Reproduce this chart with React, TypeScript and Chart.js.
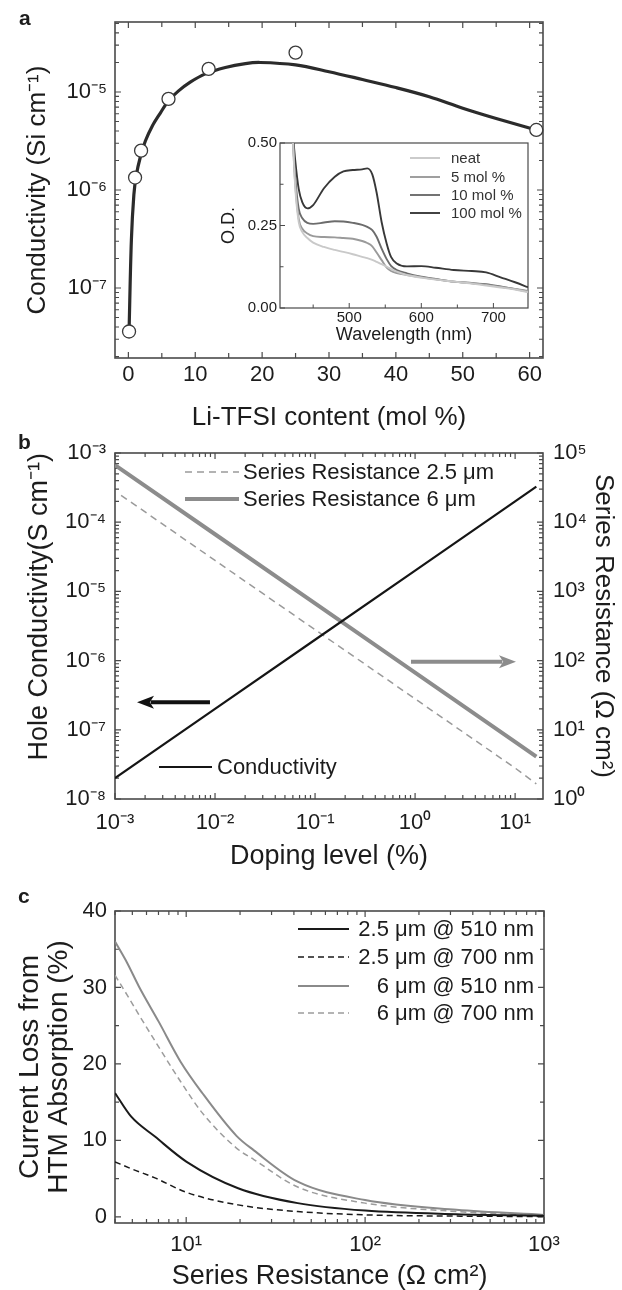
import React, { useEffect, useRef } from 'react';
import { Chart, registerables } from 'chart.js';

Chart.register(...registerables);

const FONT = "'Liberation Sans', Arial, Helvetica, sans-serif";
const INK = '#1c1c1c';
const AXIS = '#4a4a4a';
Chart.defaults.font.family = FONT;
Chart.defaults.color = INK;

// ---------------- Panel a: conductivity vs Li-TFSI content ----------------
const liContent = [0.1, 1, 1.9, 6, 12, 25, 61];
const measuredConductivity = [3.6e-8, 1.34e-6, 2.52e-6, 8.5e-6, 1.72e-5, 2.52e-5, 4.1e-6];
const fitContent = [0.1, 0.45, 0.82, 1.19, 1.79, 2.54, 3.58, 4.78, 5.97, 7.46, 9.25, 11.5, 14.5, 17.5, 19.7, 25, 30, 35, 40, 45, 50, 55, 61];
const fitConductivity = [3.56e-8, 3.09e-7, 8.9e-7, 1.42e-6, 2.17e-6, 3.16e-6, 4.5e-6, 6.1e-6, 8.09e-6, 1.02e-5, 1.26e-5, 1.53e-5, 1.78e-5, 1.95e-5, 2.0e-5, 1.89e-5, 1.61e-5, 1.34e-5, 1.11e-5, 8.95e-6, 6.84e-6, 5.37e-6, 4.09e-6];
const aXTickValues = [0, 5, 10, 15, 20, 25, 30, 35, 40, 45, 50, 55, 60];
const aXLabelValues = [0, 10, 20, 30, 40, 50, 60];
const aXLabelTexts = ['0', '10', '20', '30', '40', '50', '60'];
const aYLabelValues = [1e-7, 1e-6, 1e-5];
const aYLabelTexts = ['10\u207B\u2077', '10\u207B\u2076', '10\u207B\u2075'];

// ---------------- Inset: absorption spectra ----------------
const wavelength = [421, 425, 430, 435, 442, 450, 465, 480, 492, 505, 518, 525, 532, 538, 545, 552, 558, 566, 580, 600, 620, 645, 670, 690, 710, 730, 748];
const odNeat = [0.55, 0.37, 0.26, 0.23, 0.212, 0.198, 0.185, 0.176, 0.17, 0.163, 0.155, 0.151, 0.146, 0.14, 0.133, 0.125, 0.118, 0.11, 0.1, 0.092, 0.086, 0.08, 0.074, 0.068, 0.062, 0.056, 0.048];
const od5 = [0.55, 0.38, 0.27, 0.24, 0.226, 0.218, 0.215, 0.214, 0.212, 0.21, 0.203, 0.197, 0.187, 0.168, 0.145, 0.122, 0.112, 0.106, 0.1, 0.093, 0.087, 0.08, 0.076, 0.07, 0.064, 0.058, 0.052];
const od10 = [0.55, 0.40, 0.30, 0.272, 0.258, 0.255, 0.259, 0.263, 0.262, 0.258, 0.252, 0.246, 0.236, 0.216, 0.18, 0.148, 0.128, 0.115, 0.105, 0.095, 0.088, 0.08, 0.075, 0.072, 0.065, 0.057, 0.05];
const od100 = [0.55, 0.45, 0.36, 0.32, 0.302, 0.312, 0.363, 0.398, 0.414, 0.418, 0.42, 0.423, 0.405, 0.35, 0.26, 0.195, 0.155, 0.135, 0.126, 0.127, 0.122, 0.115, 0.112, 0.108, 0.093, 0.078, 0.063];
const insetXTickValues = [450, 500, 550, 600, 650, 700];
const insetXLabelValues = [500, 600, 700];
const insetXLabelTexts = ['500', '600', '700'];
const insetYTickValues = [0, 0.125, 0.25, 0.375, 0.5];
const insetYLabelValues = [0, 0.25, 0.5];
const insetYLabelTexts = ['0.00', '0.25', '0.50'];

// ---------------- Panel b: conductivity & series resistance vs doping ----------------
const dopingLevel = [0.001, 0.01, 0.1, 1, 10, 16.3];
const holeConductivity = [2.0e-8, 2.0e-7, 2.0e-6, 2.0e-5, 2.0e-4, 3.26e-4];
const seriesR6 = [6.7e4, 6.7e3, 670, 67, 6.7, 4.1];
const dopingLevelThin = [0.00115, 0.01, 0.1, 1, 10, 16.3];
const seriesR25 = [2.45e4, 2.8e3, 280, 28, 2.8, 1.65];
const bXLabelValues = [1e-3, 1e-2, 1e-1, 1, 10];
const bXLabelTexts = ['10\u207B\u00B3', '10\u207B\u00B2', '10\u207B\u00B9', '10\u2070', '10\u00B9'];
const bYLabelValues = [1e-8, 1e-7, 1e-6, 1e-5, 1e-4, 1e-3];
const bYLabelTexts = ['10\u207B\u2078', '10\u207B\u2077', '10\u207B\u2076', '10\u207B\u2075', '10\u207B\u2074', '10\u207B\u00B3'];
const bY2LabelValues = [1, 10, 100, 1000, 1e4, 1e5];
const bY2LabelTexts = ['10\u2070', '10\u00B9', '10\u00B2', '10\u00B3', '10\u2074', '10\u2075'];
const arrowToConductivity = { fromX: 8.9e-3, toX: 1.66e-3, atY: 2.5e-7 };
const arrowToResistance = { fromX: 0.91, toX: 10.2, atY: 96 };

// ---------------- Panel c: current loss vs series resistance ----------------
const resistance6 = [4.0, 4.68, 5.45, 7.03, 9.3, 12.3, 19.1, 23.9, 42, 100, 324, 1000];
const loss6at510 = [36.0, 33.2, 30.1, 25.5, 20.3, 16.2, 10.6, 8.7, 4.6, 2.2, 0.92, 0.26];
const loss6at700 = [31.6, 29.0, 26.4, 22.2, 17.7, 13.6, 9.0, 7.5, 3.9, 1.8, 0.7, 0.2];
const resistance25 = [4.0, 4.93, 6.69, 10.06, 19.5, 42, 100, 324, 1000];
const loss25at510 = [16.2, 13.1, 10.5, 7.2, 3.75, 1.8, 0.82, 0.35, 0.15];
const loss25at700 = [7.2, 6.3, 5.1, 3.2, 1.57, 0.7, 0.26, 0.1, 0.05];
const cYTickValues = [0, 5, 10, 15, 20, 25, 30, 35, 40];
const cYLabelValues = [0, 10, 20, 30, 40];
const cYLabelTexts = ['0', '10', '20', '30', '40'];
const cXLabelValues = [10, 100, 1000];
const cXLabelTexts = ['10\u00B9', '10\u00B2', '10\u00B3'];

// ---------------- helpers ----------------
const close = (a: number, b: number) => Math.abs(a - b) <= 1e-9 * Math.max(Math.abs(a), Math.abs(b)) + 1e-12;

function logTicks(lo: number, hi: number, minV: number, maxV: number) {
  const out: number[] = [];
  for (let e = lo; e <= hi; e++) {
    for (let m = 1; m <= 9; m++) {
      const v = parseFloat((m * Math.pow(10, e)).toPrecision(6));
      if (v >= minV * 0.9999 && v <= maxV * 1.0001) out.push(v);
    }
  }
  return out;
}

function labeler(values: number[], texts: string[]) {
  return (v: any) => {
    const i = values.findIndex((t) => close(t, Number(v)));
    return i >= 0 ? texts[i] : '';
  };
}

function pts(xs: number[], ys: number[]) {
  return xs.map((x, i) => ({ x, y: ys[i] }));
}

type TickSpec = { id: string; sides: string[]; majors: number[]; major: number; minor: number };

function makeFrame(axes: TickSpec[], frameWidth: number, tickWidth: number) {
  return {
    id: 'frameTicks',
    beforeDatasetsDraw(chart: any) {
      const { ctx, chartArea: a } = chart;
      ctx.save();
      ctx.strokeStyle = AXIS;
      ctx.lineWidth = tickWidth;
      ctx.beginPath();
      for (const ax of axes) {
        const scale = chart.scales[ax.id];
        if (!scale) continue;
        const horizontal = scale.isHorizontal();
        for (const t of scale.ticks) {
          const p = scale.getPixelForValue(t.value);
          const len = ax.majors.some((m) => close(m, t.value)) ? ax.major : ax.minor;
          if (horizontal) {
            if (p < a.left - 0.5 || p > a.right + 0.5) continue;
            if (ax.sides.includes('bottom')) { ctx.moveTo(p, a.bottom); ctx.lineTo(p, a.bottom - len); }
            if (ax.sides.includes('top')) { ctx.moveTo(p, a.top); ctx.lineTo(p, a.top + len); }
          } else {
            if (p < a.top - 0.5 || p > a.bottom + 0.5) continue;
            if (ax.sides.includes('left')) { ctx.moveTo(a.left, p); ctx.lineTo(a.left + len, p); }
            if (ax.sides.includes('right')) { ctx.moveTo(a.right, p); ctx.lineTo(a.right - len, p); }
          }
        }
      }
      ctx.stroke();
      ctx.lineWidth = frameWidth;
      ctx.strokeRect(a.left, a.top, a.right - a.left, a.bottom - a.top);
      ctx.restore();
    },
  };
}

type LegendItem = { ds: number; x1: number; x2: number; y: number; tx: number; align: 'left' | 'right' };

function makeLegend(items: LegendItem[], size: number, color: string) {
  return {
    id: 'panelLegend',
    afterDraw(chart: any) {
      const ctx = chart.ctx;
      ctx.save();
      for (const it of items) {
        const ds = chart.data.datasets[it.ds];
        ctx.strokeStyle = ds.borderColor;
        ctx.lineWidth = ds.borderWidth;
        ctx.setLineDash(ds.borderDash || []);
        ctx.beginPath();
        ctx.moveTo(it.x1, it.y);
        ctx.lineTo(it.x2, it.y);
        ctx.stroke();
        ctx.setLineDash([]);
        ctx.fillStyle = color;
        ctx.font = `${size}px ${FONT}`;
        ctx.textAlign = it.align;
        ctx.textBaseline = 'middle';
        ctx.fillText(ds.label, it.tx, it.y + 1);
      }
      ctx.restore();
    },
  };
}

type Arrow = { xScale: string; yScale: string; fromX: number; toX: number; atY: number; color: string };

function makeArrows(arrows: Arrow[]) {
  return {
    id: 'arrows',
    afterDatasetsDraw(chart: any) {
      const ctx = chart.ctx;
      for (const a of arrows) {
        const xs = chart.scales[a.xScale];
        const ys = chart.scales[a.yScale];
        const x1 = xs.getPixelForValue(a.fromX);
        const x2 = xs.getPixelForValue(a.toX);
        const y = ys.getPixelForValue(a.atY);
        const dir = Math.sign(x2 - x1);
        const head = 17;
        const half = 6.5;
        ctx.save();
        ctx.strokeStyle = a.color;
        ctx.fillStyle = a.color;
        ctx.lineWidth = 4;
        ctx.beginPath();
        ctx.moveTo(x1, y);
        ctx.lineTo(x2 - dir * head * 0.8, y);
        ctx.stroke();
        ctx.beginPath();
        ctx.moveTo(x2, y);
        ctx.lineTo(x2 - dir * head, y - half);
        ctx.lineTo(x2 - dir * head * 0.75, y);
        ctx.lineTo(x2 - dir * head, y + half);
        ctx.closePath();
        ctx.fill();
        ctx.restore();
      }
    },
  };
}

function tickOpts(size: number, padding: number, values: number[], texts: string[]) {
  return {
    autoSkip: false,
    maxRotation: 0,
    minRotation: 0,
    padding,
    color: INK,
    font: { size, family: FONT, lineHeight: 1 },
    callback: labeler(values, texts),
  };
}

function titleOpts(text: any, size: number, padTop: number, padBottom: number, align = 'center', lineHeight = 1) {
  return {
    display: true,
    text,
    align,
    color: INK,
    font: { size, family: FONT, lineHeight },
    padding: { top: padTop, bottom: padBottom },
  };
}

const hidden = { grid: { display: false, drawTicks: false }, border: { display: false } };
const baseOptions = {
  responsive: false,
  animation: false,
  devicePixelRatio: 1,
  events: [],
};
const noPlugins = { legend: { display: false }, tooltip: { enabled: false } };

// ---------------- chart builders ----------------
function buildPanelA() {
  const yTicks = logTicks(-8, -5, 1.932e-8, 5.176e-5);
  return {
    type: 'line',
    data: {
      datasets: [
        {
          label: 'measured',
          data: pts(liContent, measuredConductivity),
          showLine: false,
          pointRadius: 6.5,
          pointBorderWidth: 1.3,
          pointBorderColor: '#3a3a3a',
          pointBackgroundColor: '#ffffff',
          clip: false,
        },
        {
          label: 'fit',
          data: pts(fitContent, fitConductivity),
          borderColor: '#2b2b2b',
          borderWidth: 3.2,
          pointRadius: 0,
          tension: 0.35,
          fill: false,
        },
      ],
    },
    options: {
      ...baseOptions,
      layout: { padding: { left: 0, top: 22, right: 79, bottom: 0 } },
      plugins: noPlugins,
      scales: {
        x: {
          type: 'linear',
          min: -2,
          max: 62,
          ...hidden,
          afterFit: (s: any) => { s.height = 82; },
          afterBuildTicks: (s: any) => { s.ticks = aXTickValues.map((v) => ({ value: v })); },
          ticks: tickOpts(22, 6, aXLabelValues, aXLabelTexts),
          title: titleOpts('Li-TFSI content (mol %)', 26, 0, 9),
        },
        y: {
          type: 'logarithmic',
          min: 1.932e-8,
          max: 5.176e-5,
          ...hidden,
          afterFit: (s: any) => { s.width = 115; },
          afterBuildTicks: (s: any) => { s.ticks = yTicks.map((v) => ({ value: v })); },
          ticks: tickOpts(22, 8, aYLabelValues, aYLabelTexts),
          title: titleOpts('Conductivity (Si cm\u207B\u00B9)', 26, 25, 0),
        },
      },
    },
    plugins: [
      makeFrame(
        [
          { id: 'x', sides: ['bottom', 'top'], majors: aXLabelValues, major: 6, minor: 5 },
          { id: 'y', sides: ['left', 'right'], majors: aYLabelValues, major: 6, minor: 4 },
        ],
        1.6,
        1.2
      ),
    ],
  };
}

function buildInset() {
  const line = (label: string, ys: number[], color: string) => ({
    label,
    data: pts(wavelength, ys),
    borderColor: color,
    borderWidth: 1.9,
    pointRadius: 0,
    cubicInterpolationMode: 'monotone',
    fill: false,
  });
  return {
    type: 'line',
    data: {
      datasets: [
        line('neat', odNeat, '#c9c9c9'),
        line('5 mol %', od5, '#9a9a9a'),
        line('10 mol %', od10, '#6c6c6c'),
        line('100 mol %', od100, '#383838'),
      ],
    },
    options: {
      ...baseOptions,
      layout: { padding: { left: 0, top: 13, right: 12, bottom: 0 } },
      plugins: noPlugins,
      scales: {
        x: {
          type: 'linear',
          min: 404,
          max: 748,
          ...hidden,
          afterFit: (s: any) => { s.height = 47; },
          afterBuildTicks: (s: any) => { s.ticks = insetXTickValues.map((v) => ({ value: v })); },
          ticks: tickOpts(15, 2, insetXLabelValues, insetXLabelTexts),
          title: titleOpts('Wavelength (nm)', 18, 0, 11),
        },
        y: {
          type: 'linear',
          min: 0,
          max: 0.5,
          ...hidden,
          afterFit: (s: any) => { s.width = 80; },
          afterBuildTicks: (s: any) => { s.ticks = insetYTickValues.map((v) => ({ value: v })); },
          ticks: tickOpts(15, 3, insetYLabelValues, insetYLabelTexts),
          title: titleOpts('O.D.', 18, 20, 0),
        },
      },
    },
    plugins: [
      makeFrame(
        [
          { id: 'x', sides: ['bottom'], majors: insetXLabelValues, major: 5, minor: 3.5 },
          { id: 'y', sides: ['left'], majors: insetYLabelValues, major: 5, minor: 3.5 },
        ],
        1.2,
        1
      ),
      makeLegend(
        [
          { ds: 0, x1: 210, x2: 240, y: 28, tx: 251, align: 'left' },
          { ds: 1, x1: 210, x2: 240, y: 47, tx: 251, align: 'left' },
          { ds: 2, x1: 210, x2: 240, y: 65, tx: 251, align: 'left' },
          { ds: 3, x1: 210, x2: 240, y: 83, tx: 251, align: 'left' },
        ],
        15,
        '#333333'
      ),
    ],
  };
}

function buildPanelB() {
  const xTicks = logTicks(-3, 1, 0.001, 19);
  const yTicks = logTicks(-8, -3, 1e-8, 1e-3);
  const y2Ticks = logTicks(0, 5, 1, 1e5);
  return {
    type: 'line',
    data: {
      datasets: [
        {
          label: 'Conductivity',
          data: pts(dopingLevel, holeConductivity),
          borderColor: '#151515',
          borderWidth: 2.2,
          pointRadius: 0,
          yAxisID: 'y',
        },
        {
          label: 'Series Resistance 2.5 \u03BCm',
          data: pts(dopingLevelThin, seriesR25),
          borderColor: '#9a9a9a',
          borderWidth: 1.5,
          borderDash: [7, 5],
          pointRadius: 0,
          yAxisID: 'y2',
        },
        {
          label: 'Series Resistance 6 \u03BCm',
          data: pts(dopingLevel, seriesR6),
          borderColor: '#8c8c8c',
          borderWidth: 4,
          pointRadius: 0,
          yAxisID: 'y2',
        },
      ],
    },
    options: {
      ...baseOptions,
      layout: { padding: { left: 0, top: 23, right: 0, bottom: 0 } },
      plugins: noPlugins,
      scales: {
        x: {
          type: 'logarithmic',
          min: 0.001,
          max: 19,
          ...hidden,
          afterFit: (s: any) => { s.height = 71; },
          afterBuildTicks: (s: any) => { s.ticks = xTicks.map((v) => ({ value: v })); },
          ticks: tickOpts(22, 13, bXLabelValues, bXLabelTexts),
          title: titleOpts('Doping level (%)', 27, 0, 0),
        },
        y: {
          type: 'logarithmic',
          position: 'left',
          min: 1e-8,
          max: 1e-3,
          ...hidden,
          afterFit: (s: any) => { s.width = 115; },
          afterBuildTicks: (s: any) => { s.ticks = yTicks.map((v) => ({ value: v })); },
          ticks: tickOpts(22, 9, bYLabelValues, bYLabelTexts),
          title: titleOpts('Hole Conductivity(S cm\u207B\u00B9)', 27, 26.5, 0, 'end'),
        },
        y2: {
          type: 'logarithmic',
          position: 'right',
          min: 1,
          max: 1e5,
          ...hidden,
          afterFit: (s: any) => { s.width = 79; },
          afterBuildTicks: (s: any) => { s.ticks = y2Ticks.map((v) => ({ value: v })); },
          ticks: tickOpts(22, 10, bY2LabelValues, bY2LabelTexts),
          title: titleOpts('Series Resistance (\u03A9 cm\u00B2)', 26, 6, 0),
        },
      },
    },
    plugins: [
      makeFrame(
        [
          { id: 'x', sides: ['bottom', 'top'], majors: bXLabelValues, major: 6, minor: 4 },
          { id: 'y', sides: ['left'], majors: bYLabelValues, major: 6, minor: 4 },
          { id: 'y2', sides: ['right'], majors: bY2LabelValues, major: 6, minor: 4 },
        ],
        1.6,
        1.2
      ),
      makeArrows([
        { xScale: 'x', yScale: 'y', ...arrowToConductivity, color: '#111111' },
        { xScale: 'x', yScale: 'y2', ...arrowToResistance, color: '#8c8c8c' },
      ]),
      makeLegend(
        [
          { ds: 1, x1: 185, x2: 239, y: 42, tx: 243, align: 'left' },
          { ds: 2, x1: 185, x2: 239, y: 69, tx: 243, align: 'left' },
          { ds: 0, x1: 159, x2: 212, y: 337, tx: 217, align: 'left' },
        ],
        22,
        INK
      ),
    ],
  };
}

function buildPanelC() {
  const xTicks = logTicks(0, 3, 4, 1000);
  const line = (label: string, xs: number[], ys: number[], color: string, width: number, dash: number[]) => ({
    label,
    data: pts(xs, ys),
    borderColor: color,
    borderWidth: width,
    borderDash: dash,
    pointRadius: 0,
    cubicInterpolationMode: 'monotone',
    fill: false,
  });
  return {
    type: 'line',
    data: {
      datasets: [
        line('2.5 \u03BCm @ 510 nm', resistance25, loss25at510, '#1a1a1a', 2, []),
        line('2.5 \u03BCm @ 700 nm', resistance25, loss25at700, '#1a1a1a', 1.5, [6, 4]),
        line('6 \u03BCm @ 510 nm', resistance6, loss6at510, '#8a8a8a', 2, []),
        line('6 \u03BCm @ 700 nm', resistance6, loss6at700, '#9c9c9c', 1.5, [6, 4]),
      ],
    },
    options: {
      ...baseOptions,
      layout: { padding: { left: 0, top: 31, right: 78, bottom: 0 } },
      plugins: noPlugins,
      scales: {
        x: {
          type: 'logarithmic',
          min: 4,
          max: 1000,
          ...hidden,
          afterFit: (s: any) => { s.height = 67; },
          afterBuildTicks: (s: any) => { s.ticks = xTicks.map((v) => ({ value: v })); },
          ticks: tickOpts(22, 11, cXLabelValues, cXLabelTexts),
          title: titleOpts('Series Resistance (\u03A9 cm\u00B2)', 27, 0, 0),
        },
        y: {
          type: 'linear',
          min: -0.8,
          max: 40,
          ...hidden,
          afterFit: (s: any) => { s.width = 115; },
          afterBuildTicks: (s: any) => { s.ticks = cYTickValues.map((v) => ({ value: v })); },
          ticks: tickOpts(22, 8, cYLabelValues, cYLabelTexts),
          title: titleOpts(['Current Loss from', 'HTM Absorption (%)'], 28, 15.3, 0, 'center', 1.05),
        },
      },
    },
    plugins: [
      makeFrame(
        [
          { id: 'x', sides: ['bottom', 'top'], majors: cXLabelValues, major: 6, minor: 4 },
          { id: 'y', sides: ['left', 'right'], majors: cYLabelValues, major: 6, minor: 4 },
        ],
        1.6,
        1.2
      ),
      makeLegend(
        [
          { ds: 0, x1: 298, x2: 349, y: 49, tx: 534, align: 'right' },
          { ds: 1, x1: 298, x2: 349, y: 77, tx: 534, align: 'right' },
          { ds: 2, x1: 298, x2: 349, y: 106, tx: 534, align: 'right' },
          { ds: 3, x1: 298, x2: 349, y: 133, tx: 534, align: 'right' },
        ],
        22,
        INK
      ),
    ],
  };
}

// ---------------- components ----------------
function ChartCanvas(props: { left: number; top: number; width: number; height: number; build: () => any }) {
  const ref = useRef<HTMLCanvasElement | null>(null);
  useEffect(() => {
    const chart = new Chart(ref.current as HTMLCanvasElement, props.build());
    return () => chart.destroy();
  }, []);
  return (
    <canvas
      ref={ref}
      width={props.width}
      height={props.height}
      style={{ position: 'absolute', left: props.left, top: props.top, width: props.width, height: props.height }}
    />
  );
}

const letterStyle = (left: number, top: number): React.CSSProperties => ({
  position: 'absolute',
  left,
  top,
  fontFamily: FONT,
  fontWeight: 'bold',
  fontSize: 21,
  lineHeight: '21px',
  color: INK,
});

export default function App() {
  return (
    <div
      style={{
        position: 'absolute',
        left: 0,
        top: 0,
        width: 622,
        height: 1290,
        overflow: 'hidden',
        background: '#ffffff',
      }}
    >
      <ChartCanvas left={0} top={0} width={622} height={440} build={buildPanelA} />
      <ChartCanvas left={200} top={130} width={340} height={225} build={buildInset} />
      <ChartCanvas left={0} top={430} width={622} height={440} build={buildPanelB} />
      <ChartCanvas left={0} top={880} width={622} height={410} build={buildPanelC} />
      <div style={letterStyle(19, 7)}>a</div>
      <div style={letterStyle(18, 431)}>b</div>
      <div style={letterStyle(18, 885)}>c</div>
    </div>
  );
}
